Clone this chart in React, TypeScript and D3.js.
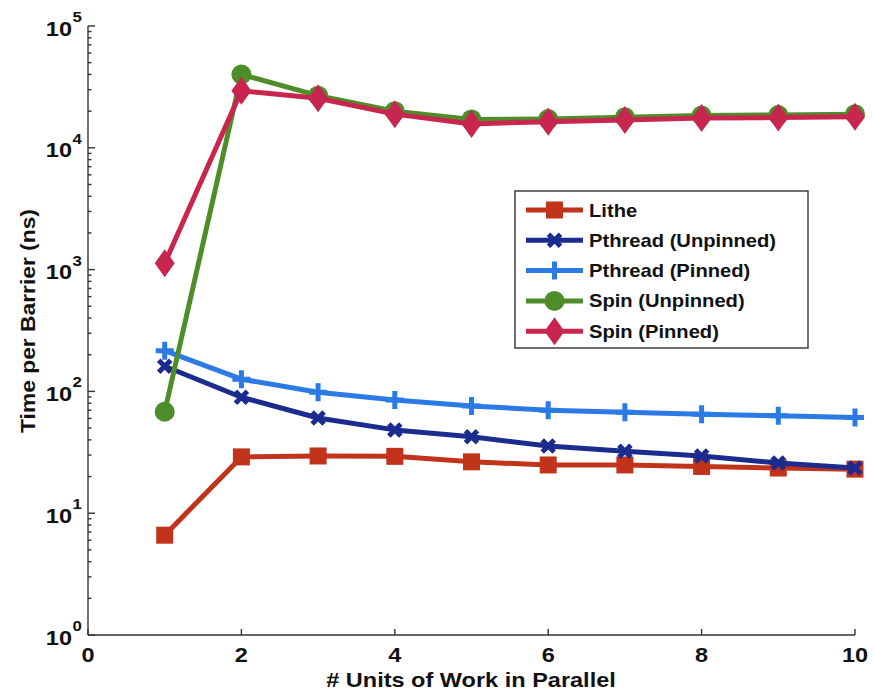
import React from 'react';
import * as d3 from 'd3';

// values
const units = [1, 2, 3, 4, 5, 6, 7, 8, 9, 10];
const lithe = [6.6, 29, 29.5, 29.3, 26.4, 24.9, 24.9, 24.2, 23.5, 23];
const pthreadUnpinned = [161, 89.5, 60.5, 48.3, 42.4, 35.6, 32.2, 29.5, 25.8, 23.5];
const pthreadPinned = [216, 126, 98.5, 85, 76, 70, 67.4, 65, 63, 61];
const spinUnpinned = [68, 40000, 26800, 20000, 17100, 17200, 17800, 18400, 18600, 18900];
const spinPinned = [1127, 29400, 25500, 18900, 15700, 16400, 16900, 17600, 17700, 18000];

const xTicks = [0, 2, 4, 6, 8, 10];
const yExponents = [0, 1, 2, 3, 4, 5];

const seriesList = [
  { name: 'Lithe', values: lithe, color: '#c1341b', marker: 'square' },
  { name: 'Pthread (Unpinned)', values: pthreadUnpinned, color: '#1c2b8e', marker: 'x' },
  { name: 'Pthread (Pinned)', values: pthreadPinned, color: '#2b7ae6', marker: 'plus' },
  { name: 'Spin (Unpinned)', values: spinUnpinned, color: '#4f8d2a', marker: 'circle' },
  { name: 'Spin (Pinned)', values: spinPinned, color: '#c8264f', marker: 'diamond' },
];

const W = 874;
const H = 696;
const FONT = '"Liberation Sans", Arial, Helvetica, sans-serif';
const STRETCH = 1.12;

const x = d3.scaleLinear().domain([0, 10]).range([88, 855]);
const y = d3.scaleLog().domain([1, 1e5]).range([635, 26]);

function Marker({ kind, cx, cy, color }: { kind: string; cx: number; cy: number; color: string }) {
  if (kind === 'square') {
    return <rect x={cx - 8.5} y={cy - 8.5} width={17} height={17} fill={color} />;
  }
  if (kind === 'circle') {
    return <circle cx={cx} cy={cy} r={10} fill={color} />;
  }
  if (kind === 'diamond') {
    return <path d={`M${cx},${cy - 14}L${cx + 10},${cy}L${cx},${cy + 14}L${cx - 10},${cy}Z`} fill={color} />;
  }
  if (kind === 'plus') {
    return (
      <path
        d={`M${cx - 9},${cy}L${cx + 9},${cy}M${cx},${cy - 9}L${cx},${cy + 9}`}
        stroke={color}
        strokeWidth={5}
      />
    );
  }
  // x marker
  return (
    <path
      d={`M${cx - 6},${cy - 6}L${cx + 6},${cy + 6}M${cx - 6},${cy + 6}L${cx + 6},${cy - 6}`}
      stroke={color}
      strokeWidth={5}
    />
  );
}

export default function App() {
  const line = d3
    .line<number>()
    .x((_, i) => x(units[i]))
    .y((v) => y(v));

  // minor ticks for log axis
  const minorTicks: number[] = [];
  for (let e = 0; e < 5; e++) {
    for (let m = 2; m <= 9; m++) minorTicks.push(m * Math.pow(10, e));
  }

  const legendX = 515;
  const legendY = 191;
  const legendW = 293;
  const legendH = 157;

  return (
    <svg
      width={W}
      height={H}
      style={{ position: 'absolute', left: 0, top: 0, background: '#fff' }}
      fontFamily={FONT}
      fontWeight="bold"
    >
      {/* axes */}
      <g stroke="#333" strokeWidth={1.4} fill="none">
        <line x1={x(0)} x2={x(10)} y1={y(1)} y2={y(1)} />
        <line x1={x(0)} x2={x(0)} y1={y(1)} y2={y(1e5)} />
        {xTicks.map((t) => (
          <line key={t} x1={x(t)} x2={x(t)} y1={y(1)} y2={y(1) - 6} />
        ))}
        {yExponents.map((e) => (
          <line key={e} x1={x(0)} x2={x(0) + 7} y1={y(Math.pow(10, e))} y2={y(Math.pow(10, e))} />
        ))}
        {minorTicks.map((t) => (
          <line key={t} x1={x(0)} x2={x(0) + 3.5} y1={y(t)} y2={y(t)} />
        ))}
      </g>

      {/* tick labels */}
      {xTicks.map((t) => (
        <text
          key={t}
          transform={`translate(${x(t)},${y(1) + 27}) scale(${STRETCH},1)`}
          textAnchor="middle"
          fontSize={21}
          fill="#111"
        >
          {t}
        </text>
      ))}
      {yExponents.map((e) => {
        const ty = y(Math.pow(10, e));
        return (
          <g key={e} fill="#111">
            <text transform={`translate(72,${ty + 9.5}) scale(${STRETCH},1)`} textAnchor="end" fontSize={21}>
              10
            </text>
            <text transform={`translate(72.5,${ty - 4}) scale(${STRETCH},1)`} fontSize={15}>
              {e}
            </text>
          </g>
        );
      })}

      {/* axis titles */}
      <text
        transform={`translate(471,687) scale(${STRETCH},1)`}
        textAnchor="middle"
        fontSize={21}
        fill="#111"
      >
        # Units of Work in Parallel
      </text>
      <text
        transform={`translate(35,321) rotate(-90) scale(${STRETCH * 0.97},1)`}
        textAnchor="middle"
        fontSize={21}
        fill="#111"
      >
        Time per Barrier (ns)
      </text>

      {/* series */}
      {seriesList.map((s) => (
        <g key={s.name}>
          <path d={line(s.values) || ''} fill="none" stroke={s.color} strokeWidth={5} strokeLinejoin="round" />
          {s.values.map((v, i) => (
            <Marker key={i} kind={s.marker} cx={x(units[i])} cy={y(v)} color={s.color} />
          ))}
        </g>
      ))}

      {/* legend */}
      <rect x={legendX} y={legendY} width={legendW} height={legendH} fill="#fff" stroke="#333" strokeWidth={1.4} />
      {seriesList.map((s, i) => {
        const ly = 210 + i * 30.3;
        return (
          <g key={s.name}>
            <line x1={526} x2={583} y1={ly} y2={ly} stroke={s.color} strokeWidth={5} />
            <Marker kind={s.marker} cx={554.5} cy={ly} color={s.color} />
            <text
              transform={`translate(589,${ly + 6.5}) scale(${STRETCH},1)`}
              fontSize={18}
              fill="#111"
            >
              {s.name}
            </text>
          </g>
        );
      })}
    </svg>
  );
}
